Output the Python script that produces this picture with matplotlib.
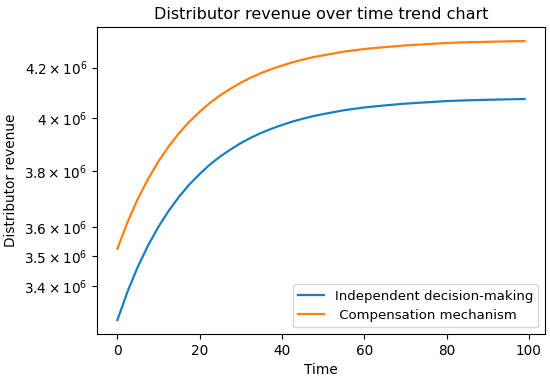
import matplotlib
matplotlib.use("Agg")
import matplotlib.pyplot as plt
from matplotlib.ticker import NullLocator, FixedLocator

# values
time = [0, 2.5, 5, 7.5, 10, 12.5, 15, 17.5, 20, 22.5, 25, 27.5, 30, 32.5, 35,
        37.5, 40, 42.5, 45, 47.5, 50, 55, 60, 65, 70, 75, 80, 85, 90, 95, 99]
independent = [3.290, 3.383, 3.465, 3.537, 3.601, 3.657, 3.707, 3.751, 3.789,
               3.824, 3.854, 3.880, 3.904, 3.925, 3.943, 3.959, 3.973, 3.986,
               3.997, 4.007, 4.015, 4.030, 4.041, 4.049, 4.056, 4.061, 4.066,
               4.069, 4.071, 4.073, 4.074]
compensation = [3.525, 3.618, 3.700, 3.772, 3.836, 3.892, 3.942, 3.986, 4.024,
                4.059, 4.089, 4.115, 4.139, 4.160, 4.178, 4.194, 4.208, 4.221,
                4.232, 4.242, 4.250, 4.265, 4.276, 4.284, 4.291, 4.296, 4.301,
                4.304, 4.306, 4.308, 4.309]
independent = [v * 1e6 for v in independent]
compensation = [v * 1e6 for v in compensation]

ytick_vals = [3.4e6, 3.5e6, 3.6e6, 3.8e6, 4.0e6, 4.2e6]
ytick_labels = [r'$\mathdefault{3.4\times10^{6}}$', r'$\mathdefault{3.5\times10^{6}}$',
                r'$\mathdefault{3.6\times10^{6}}$', r'$\mathdefault{3.8\times10^{6}}$',
                r'$\mathdefault{4\times10^{6}}$', r'$\mathdefault{4.2\times10^{6}}$']

fig = plt.figure(figsize=(5.5, 3.82), dpi=100)
ax = fig.add_axes([0.1764, 0.1257, 0.8146, 0.8033])

ax.plot(time, independent, color='#1a7fc0', lw=1.6, label='Independent decision-making')
ax.plot(time, compensation, color='#ff8010', lw=1.6, label=' Compensation mechanism')
ax.set_yscale('log')
ax.yaxis.set_minor_locator(NullLocator())
ax.yaxis.set_major_locator(FixedLocator(ytick_vals))
ax.set_yticks(ytick_vals, ytick_labels)
ax.set_xticks([0, 20, 40, 60, 80, 100])
ax.tick_params(labelsize=9.8)

ax.set_title('Distributor revenue over time trend chart', fontsize=11.5)
ax.set_xlabel('Time', fontsize=9.8)
ax.set_ylabel('Distributor revenue', fontsize=9.8)
ax.legend(loc='lower right', fontsize=9.5)

fig.savefig('out.png', dpi=100)
